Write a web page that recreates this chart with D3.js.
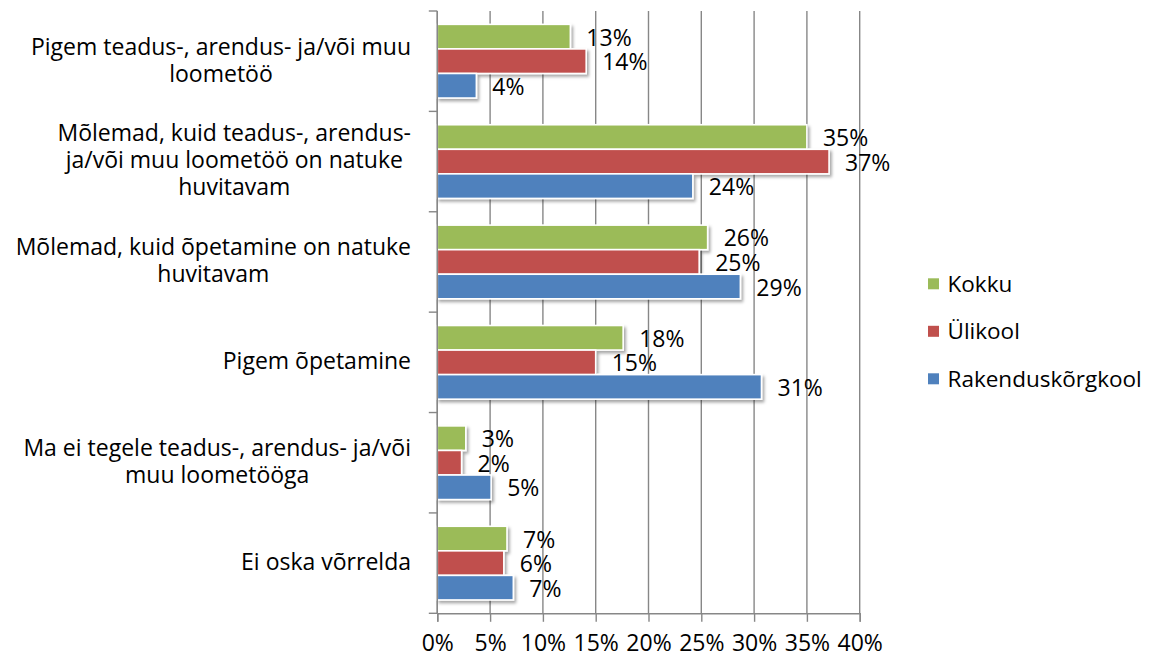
<!DOCTYPE html>
<html>
<head>
<meta charset="utf-8">
<script src="https://cdn.jsdelivr.net/npm/d3@7"></script>
<style>
  html, body { margin: 0; padding: 0; background: #fff; }
  svg { display: block; font-family: "Open Sans", "Noto Sans", sans-serif; }
</style>
</head>
<body>
<svg id="chart" width="1152" height="660"></svg>
<script>
// Answer options (line breaks as wrapped in the category axis)
const categories = [
  "Pigem teadus-, arendus- ja/või muu\nloometöö",
  "Mõlemad, kuid teadus-, arendus-\nja/või muu loometöö on natuke\nhuvitavam",
  "Mõlemad, kuid õpetamine on natuke\nhuvitavam",
  "Pigem õpetamine",
  "Ma ei tegele teadus-, arendus- ja/või\nmuu loometööga",
  "Ei oska võrrelda"
];
const seriesNames = ["Kokku", "Ülikool", "Rakenduskõrgkool"];
const seriesColors = ["#9BBB59", "#C0504D", "#4F81BD"];

// Shares in percent, one array per series, same order as categories
const kokku = [12.6, 35.0, 25.6, 17.6, 2.7, 6.6];
const ylikool = [14.1, 37.1, 24.8, 15.0, 2.3, 6.3];
const rakenduskorgkool = [3.7, 24.2, 28.7, 30.7, 5.1, 7.2];

const xTicks = [0, 5, 10, 15, 20, 25, 30, 35, 40];

const seriesValues = [kokku, ylikool, rakenduskorgkool];

const svg = d3.select("#chart");
const plot = { left: 437.3, right: 859.7, top: 11, bottom: 613.3 };

const x = d3.scaleLinear().domain([0, 40]).range([plot.left, plot.right]);
const y0 = d3.scaleBand().domain(d3.range(categories.length)).range([plot.top, plot.bottom]);
const bw = y0.bandwidth();
const groupPad = bw * 0.133;
const y1 = d3.scaleBand().domain(d3.range(seriesNames.length)).range([groupPad, bw - groupPad]);

const defs = svg.append("defs");
const f = defs.append("filter").attr("id", "shadow")
  .attr("x", "-5%").attr("y", "-30%").attr("width", "115%").attr("height", "180%");
f.append("feDropShadow").attr("dx", 2).attr("dy", 2.5).attr("stdDeviation", 1.6)
  .attr("flood-color", "#000").attr("flood-opacity", 0.35);

const gridColor = "#878787";

// Vertical gridlines
svg.append("g").selectAll("line").data(xTicks).join("line")
  .attr("x1", d => x(d)).attr("x2", d => x(d))
  .attr("y1", plot.top).attr("y2", plot.bottom)
  .attr("stroke", gridColor).attr("stroke-width", 1.4);

// Bars
const rows = [];
categories.forEach((c, ci) => {
  seriesNames.forEach((s, si) => rows.push({ ci, si, v: seriesValues[si][ci] }));
});

svg.append("g").attr("filter", "url(#shadow)").selectAll("rect").data(rows).join("rect")
  .attr("x", x(0))
  .attr("y", d => y0(d.ci) + y1(d.si))
  .attr("width", d => x(d.v) - x(0))
  .attr("height", y1.bandwidth())
  .attr("fill", d => seriesColors[d.si])
  .attr("stroke", "#fff").attr("stroke-width", 1.6);

// Value labels
const numSize = 23;
svg.append("g").selectAll("text").data(rows).join("text")
  .attr("x", d => x(d.v) + 16)
  .attr("y", d => y0(d.ci) + y1(d.si) + y1.bandwidth() / 2 + 9)
  .attr("font-size", numSize).attr("fill", "#000")
  .text(d => Math.round(d.v) + "%");

// Category axis line and tick marks at band boundaries
const axisG = svg.append("g");
axisG.append("line")
  .attr("x1", plot.left).attr("x2", plot.left)
  .attr("y1", plot.top).attr("y2", plot.bottom)
  .attr("stroke", gridColor).attr("stroke-width", 1.4);
const boundaries = d3.range(categories.length + 1).map(i => plot.top + i * bw);
axisG.selectAll(".ct").data(boundaries).join("line").attr("class", "ct")
  .attr("x1", plot.left - 8.5).attr("x2", plot.left)
  .attr("y1", d => d).attr("y2", d => d)
  .attr("stroke", gridColor).attr("stroke-width", 1.4);

// Value axis along the bottom
const xAxis = d3.axisBottom(x).tickValues(xTicks).tickSize(8.5).tickPadding(13)
  .tickFormat(d => d + "%");
const xg = svg.append("g").attr("transform", `translate(0,${plot.bottom})`).call(xAxis);
xg.select(".domain").attr("stroke", gridColor).attr("stroke-width", 1.4);
xg.selectAll(".tick line").attr("stroke", gridColor).attr("stroke-width", 1.4);
xg.selectAll(".tick text").attr("font-size", numSize).attr("fill", "#000")
  .attr("font-family", "'Open Sans', 'Noto Sans', sans-serif");

// Category labels: lines centred within the block, block right-aligned to the axis
const catSize = 23, lineH = 27, labelRight = 411;
categories.forEach((c, ci) => {
  const lines = c.split("\n");
  const g = svg.append("g");
  const texts = g.selectAll("text").data(lines).join("text")
    .attr("font-size", catSize).attr("fill", "#000")
    .attr("text-anchor", "middle")
    .attr("y", (d, i) => y0(ci) + bw / 2 + (i - (lines.length - 1) / 2) * lineH + catSize * 0.3)
    .text(d => d);
  let maxW = 0;
  texts.each(function () { maxW = Math.max(maxW, this.getComputedTextLength()); });
  texts.attr("x", labelRight - maxW / 2);
});

// Legend
const legend = svg.append("g").selectAll("g").data(seriesNames).join("g")
  .attr("transform", (d, i) => `translate(928,${278.3 + i * 47.5})`);
legend.append("rect").attr("width", 11).attr("height", 11)
  .attr("fill", (d, i) => seriesColors[i]);
legend.append("text").attr("x", 19.5).attr("y", 13.5)
  .attr("font-size", 22.5).attr("fill", "#000").text(d => d);
</script>
</body>
</html>
